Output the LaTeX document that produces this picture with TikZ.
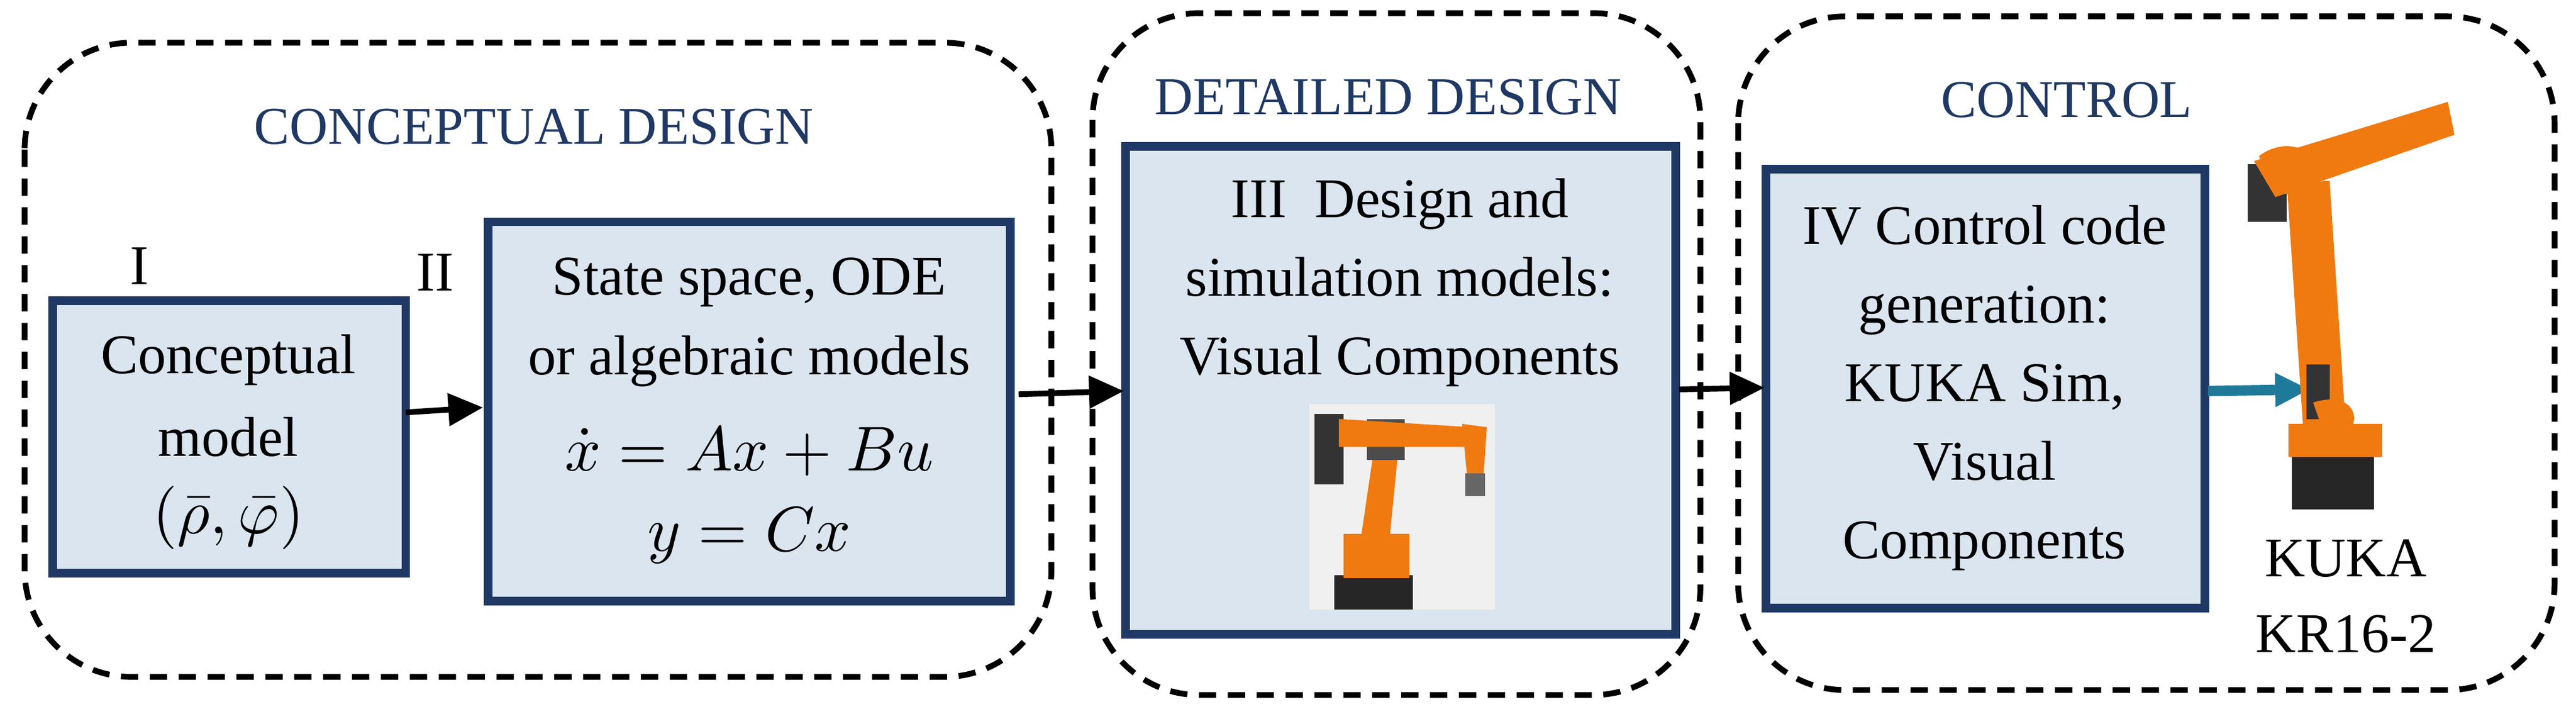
\documentclass[tikz,border=0pt]{standalone}
\usepackage{fontspec}
\setmainfont{Liberation Serif}
\usetikzlibrary{arrows.meta}
\definecolor{tblue}{HTML}{1F3864}
\definecolor{bfill}{HTML}{DAE5F0}
\definecolor{kuka}{HTML}{F07A10}
\definecolor{teal}{HTML}{1F7A99}
\begin{document}
\begin{tikzpicture}[x=0.01cm,y=-0.01cm,
 grp/.style={draw,line width=1pt,rounded corners=0.65cm,dash pattern=on 3pt off 2pt},
 bx/.style={draw=tblue,fill=bfill,line width=1.5pt},
 txt/.style={align=center,font=\fontsize{9.7}{13.6}\selectfont},
 ttl/.style={text=tblue,font=\fontsize{9.2}{11}\selectfont},
 lab/.style={font=\fontsize{9.7}{11}\selectfont},
 arr/.style={line width=1pt,-{Triangle[length=6pt,width=5.5pt]}}]
\useasboundingbox (0,0) rectangle (1568,437.6);
\draw[grp] (15,26) rectangle (640,412);
\draw[grp] (665,8) rectangle (1035,423);
\draw[grp] (1058,10) rectangle (1555,420);
\node[ttl] (t1) at (325,77) {CONCEPTUAL DESIGN};
\node[ttl] (t2) at (845,59) {DETAILED DESIGN};
\node[ttl] (t3) at (1258,61) {CONTROL};
\node[lab] (l1) at (85,162) {I};
\node[lab] (l2) at (265,166) {II};
\draw[bx] (32,183) rectangle (247,349);
\node[txt] (b1a) at (139,219) {Conceptual};
\node[txt] (b1b) at (139,266) {model};
\node[txt,font=\fontsize{10.5}{12}\selectfont] (b1c) at (139,315) {$(\bar{\rho},\bar{\varphi})$};
\draw[bx] (297,135) rectangle (615,366);
\node[txt] (b2a) at (456,172) {State space, ODE};
\node[txt] (b2b) at (456,220) {or algebraic models};
\node[txt,font=\fontsize{10.5}{12}\selectfont] (b2c) at (456,275) {$\dot{x} = Ax+Bu$};
\node[txt,font=\fontsize{10.5}{12}\selectfont] (b2d) at (456,326) {$y = Cx$};
\draw[bx] (685,89) rectangle (1020,386);
\node[txt] (b3t) at (852,172) {III\ \ Design and\\simulation models:\\Visual Components};
\draw[bx] (1075,103) rectangle (1342,370);
\node[txt] (b4t) at (1208,236) {IV Control code\\generation:\\KUKA Sim,\\Visual\\Components};
\coordinate (a1) at (247,251); \coordinate (a1e) at (294,248);
\draw[arr] (a1) -- (a1e);
\coordinate (a2) at (620,240); \coordinate (a2e) at (684,238);
\draw[arr] (a2) -- (a2e);
\coordinate (a3) at (1022,237); \coordinate (a3e) at (1074,236);
\draw[arr] (a3) -- (a3e);
\coordinate (a4) at (1344,238); \coordinate (a4e) at (1406,237);
\draw[arr,teal,line width=1.8pt] (a4) -- (a4e);
% small robot
\fill[gray!12] (797,246) rectangle (910,371);
\fill[black!85] (812,350) rectangle (860,371);
\fill[kuka] (818,325) rectangle (858,352);
\fill[kuka] (828,330) -- (846,326) -- (852,265) -- (838,262) -- cycle;
\fill[black!80] (800,252) rectangle (818,295);
\fill[black!70] (832,255) rectangle (855,280);
\fill[kuka] (815,255) -- (895,260) -- (895,272) -- (815,272) -- cycle;
\fill[kuka] (890,258) -- (905,260) -- (903,290) -- (893,290) -- cycle;
\fill[black!60] (892,288) rectangle (904,302);
% big robot
\fill[black!85] (1395,275) rectangle (1445,310);
\fill[kuka] (1393,258) rectangle (1450,278);
\fill[kuka] (1402,262) -- (1428,262) -- (1418,110) -- (1392,112) -- cycle;
\fill[black!80] (1404,222) rectangle (1418,255);
\fill[kuka] (1408,245) .. controls (1440,235) and (1440,270) .. (1415,265) -- cycle;
\fill[black!80] (1368,100) rectangle (1392,135);
\fill[kuka] (1372,98) -- (1490,62) -- (1494,82) -- (1385,120) -- cycle;
\fill[kuka] (1375,95) .. controls (1395,80) and (1420,95) .. (1410,118) -- (1385,118) -- cycle;
\node[lab] (k1) at (1428,340) {KUKA};
\node[lab] (k2) at (1428,386) {KR16-2};
\end{tikzpicture}
\end{document}
